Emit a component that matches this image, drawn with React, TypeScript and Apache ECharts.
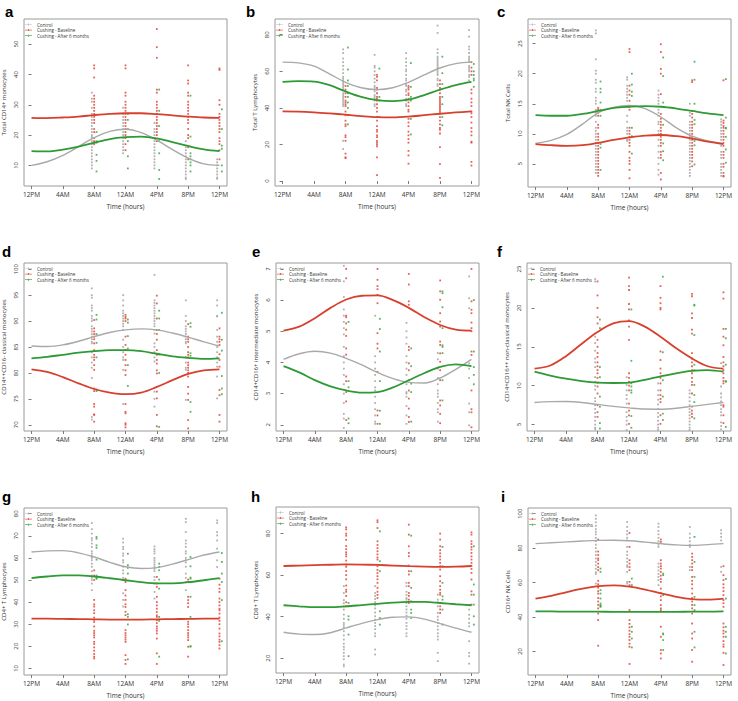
import React, { useEffect, useRef } from "react";
import * as echarts from "echarts";

// ---------- shared axis data ----------
const tickHours = [0, 4, 8, 12, 16, 20, 24];
const tickLabels = ["12PM", "4AM", "8AM", "12AM", "4PM", "8PM", "12PM"];
const sampleHours = [8, 12, 16, 20, 24];
const curveHours = [0, 2, 4, 6, 8, 10, 12, 14, 16, 18, 20, 22, 24];
const groupNames = ["Control", "Cushing - Baseline", "Cushing - After 6 months"];

// ---------- panel a : Total CD14+ monocytes ----------
const aTicks = [10, 20, 30, 40, 50];
const aCtrl = [
  [34, 32, 31, 29, 27, 26, 25, 24, 23, 22, 21, 20, 19.5, 19, 18, 17, 16, 15, 14, 13, 12, 11, 10, 9],
  [29, 27, 26, 25, 24, 23, 22, 21, 20, 19, 18, 17, 16, 15, 14],
  [24, 22, 21, 20, 19, 18, 17, 16, 15, 14, 13, 12, 11, 10, 9],
  [18, 16, 15, 14, 13, 12, 11, 10, 9, 8, 7, 6, 5.5],
  [12, 11, 10, 9, 8, 7, 6, 5.6],
];
const aBase = [
  [43, 42, 39, 33, 32, 31, 30, 29, 28, 27, 26, 25, 24, 22, 21, 19, 18, 17.5, 17],
  [43, 42, 34, 33, 31, 30, 29, 28, 27, 26, 25, 24, 23, 22, 21, 20, 19, 17, 15],
  [55, 49, 45.5, 35, 34, 31, 30, 29, 28, 27, 26, 25, 24, 23, 22, 21, 20, 18],
  [43, 38, 37, 34, 33, 31, 30, 29, 28, 27, 26, 25, 24, 22, 20, 19, 16, 12],
  [42, 41.5, 31.5, 30, 27, 26, 25, 24, 23, 22, 21, 19, 18, 17, 15, 12],
];
const aAfter = [
  [21, 18, 17.5, 13.5, 11.5, 8],
  [27, 25, 22, 18, 13, 9],
  [35, 28, 23, 18, 14, 8.5, 5.5],
  [33, 19.5, 14, 13, 12, 11, 10, 8],
  [28.5, 22, 16.5, 15.5, 10, 8],
];
const aCtrlFit = [10.0, 11.2, 13.3, 16.2, 19.2, 21.2, 21.9, 20.8, 18.3, 15.2, 12.4, 10.5, 10.0];
const aBaseFit = [25.7, 25.6, 25.8, 26.1, 26.6, 27.0, 27.2, 27.2, 26.9, 26.5, 26.1, 25.8, 25.7];
const aAfterFit = [14.7, 14.6, 15.2, 16.2, 17.5, 18.7, 19.3, 19.5, 18.9, 17.7, 16.4, 15.3, 14.7];

// ---------- panel b : Total T Lymphocytes ----------
const bTicks = [0, 20, 40, 60, 80];
const bCtrl = [
  [72, 70, 67, 65, 63, 61, 59, 57, 56, 55, 54, 53, 52, 51, 50, 48, 47, 46, 45, 44, 43, 42, 41, 22, 17.5],
  [69, 63, 62, 60, 58, 56, 54, 52, 51, 50, 49, 47, 46, 45, 44, 42, 41],
  [70, 67, 65, 63, 61, 60, 58, 56, 55, 53, 52, 50, 49, 47, 45, 44, 42, 41],
  [85, 81, 72, 70, 68, 67, 66, 65, 64, 63, 62, 61, 60, 59, 58, 56, 55, 53, 52],
  [82.5, 79, 73.5, 72, 70, 68, 67, 66, 65, 63, 62, 61, 60, 58, 57, 55],
];
const bBase = [
  [52, 50, 48, 46, 44, 43, 42, 41, 38, 36, 33, 31, 30, 25, 24, 22, 15, 13, 12.5],
  [58, 57, 55, 51, 50, 48, 46, 45, 44, 42, 40, 38, 35, 33, 30, 28, 27, 25, 24, 22, 21, 20, 19, 13, 3.3],
  [52, 51, 50, 48, 47, 45, 43, 41, 39, 38, 34, 32, 30, 27, 25, 23, 21, 16.5, 14, 9.5],
  [55, 53, 51, 50, 48, 46, 45, 44, 43, 42, 41, 40, 39, 38, 37, 35, 33, 31, 29, 28, 26, 18.5, 9.3, 1.7],
  [65, 62, 60, 58, 50, 48, 45, 43, 41, 38, 37, 35, 32, 29, 27, 25, 21.5, 21, 10.5, 8.5],
];
const bAfter = [
  [73, 61, 55, 52, 48, 46, 43, 40, 36, 31],
  [61.5, 46, 44, 35],
  [64.5, 51.5, 46, 44, 34, 25.5],
  [68, 59, 53, 46, 42, 35, 30.5],
  [64, 60, 58, 56, 55, 51.5],
];
const bCtrlFit = [65, 64.6, 62.8, 58.5, 54, 51, 50, 51, 54, 58, 61.8, 64.2, 65];
const bBaseFit = [38.1, 38, 37.6, 37, 36.3, 35.5, 34.9, 34.8, 35.2, 36, 36.8, 37.5, 38.1];
const bAfterFit = [54.2, 54.6, 54.4, 52.4, 49, 46, 44.2, 43.7, 44.5, 47, 50, 52.5, 54.2];

// ---------- panel c : Total NK Cells ----------
const cTicks = [5, 10, 15, 20, 25];
const cCtrl = [
  [27.2, 26.7, 22.4, 20.5, 20, 19, 18.5, 17.5, 17, 16, 15.5, 15, 14, 13.5, 13, 12, 11, 10.5, 10, 9.5, 9, 8.5, 8, 7.5, 7, 6.5, 6, 5.5, 5, 4.5, 4, 3.5],
  [19.4, 19, 18, 17.5, 17, 16.5, 16, 15.5, 14.5, 13, 12, 11, 10.5, 10, 9, 8.8],
  [17.2, 16.5, 16, 15.5, 15, 14, 13.5, 13, 12, 11.6, 10.5, 10, 9, 8, 7, 6, 5, 4, 3.2],
  [15, 13.5, 13, 12, 11.5, 11, 10.5, 10, 9.5, 9, 8.5, 8, 7.5, 7, 6.5, 6, 5.5, 5, 4.5, 4, 3.5, 3],
  [12.4, 12, 11.5, 11, 10.5, 10, 9.5, 9, 8, 7, 6.5, 6, 5, 4.5, 4, 3.5, 3],
];
const cBase = [
  [14.3, 14, 13.5, 13, 11.5, 11, 10, 9.5, 9, 8.5, 8, 7.5, 7, 6.5, 6, 5.5, 5, 4.5, 4, 3.5, 3],
  [24.1, 23.6, 18, 17.2, 16.5, 15.5, 14.5, 14, 11, 10.5, 10, 9.5, 9, 8.5, 8, 7, 6, 5.5, 5, 4, 2.6],
  [24.9, 23.6, 20.8, 20, 16.6, 13.3, 12.5, 12, 11.5, 11, 10.5, 10, 9.5, 9, 8.5, 8, 7, 6.5, 6, 3.5, 2.4],
  [18.9, 18.6, 13.8, 13.3, 12.7, 12, 11.5, 11, 10.5, 10, 9.5, 9, 8.5, 8, 7.5, 7, 6.5, 6, 5.4, 4.6],
  [18.9, 12.2, 11.8, 11.3, 11, 10.5, 10, 9.5, 9, 8.5, 8, 7, 6.5, 6, 5, 4.5, 3.5, 3, 2.9],
];
const cAfter = [
  [18.7, 17.5, 16.9, 15.2, 14, 13, 8.3, 7.7, 4],
  [20, 18.2, 17, 16.3, 11, 9.6, 6.7],
  [22.7, 19.6, 15.2, 11.5, 8.4, 7.1, 5.6],
  [22, 19, 15, 12.3, 11.6, 8.8, 8.1, 4.9],
  [19.1, 12.7, 11, 10.9, 9.5, 7.4, 5.2],
];
const cCtrlFit = [8.4, 8.9, 9.9, 11.6, 13.5, 14.4, 14.7, 14.2, 12.8, 11.0, 9.6, 8.8, 8.4];
const cBaseFit = [8.3, 8.1, 8.0, 8.1, 8.5, 9.0, 9.4, 9.7, 9.8, 9.6, 9.2, 8.7, 8.3];
const cAfterFit = [13.1, 13.0, 13.0, 13.3, 13.8, 14.3, 14.5, 14.6, 14.5, 14.2, 13.8, 13.4, 13.1];

// ---------- panel d : classical monocytes ----------
const dTicks = [70, 75, 80, 85, 90, 95, 100];
const dCtrl = [
  [96.3, 95, 94.5, 93, 92.5, 92, 91, 90.5, 90, 89, 88.5, 88, 87.5, 87, 86.5, 86, 85.7, 84, 83, 82, 81, 79, 71.5, 71],
  [95, 94, 93, 92, 91.5, 91, 90.5, 90, 89.5, 89, 88.3, 86.4, 85, 84, 83, 82.5, 80.6, 74],
  [98.9, 94, 93.5, 93, 92.5, 92, 91.5, 91, 90.5, 90, 89.5, 89, 88.3, 87.6, 85.7, 85, 84, 83, 82.2, 76.4, 75, 73.5],
  [94, 91, 90, 89, 88.5, 88, 87.5, 87, 86.5, 86, 85.7, 83.1, 82, 81, 80.6, 74.8],
  [94, 93, 91, 90.9, 88.3, 87, 86, 85, 84, 83, 82, 81.2, 79.3, 75.1],
];
const dBase = [
  [90.2, 88.6, 88, 87.5, 87, 86.5, 85.7, 84.4, 83.5, 83, 82.5, 81.5, 80.6, 77, 76.5, 74, 73.5, 72, 71.9, 70.6],
  [91.2, 90.8, 90.5, 90, 87, 85.4, 84.4, 83.5, 82.5, 81.5, 80.5, 79.6, 74, 72.5, 72.2, 70.3, 70, 69.5],
  [94.9, 93.4, 90.5, 88.3, 87.5, 86.4, 84.4, 83.5, 82.5, 81.8, 80.5, 79.9, 76.4, 75.1, 71.9, 69.7],
  [89.4, 87, 86.5, 86, 85, 84, 83.5, 83, 82, 81.5, 81, 80.5, 80, 79.3, 77.3, 76, 74.8, 70.9, 69.3],
  [88.6, 87, 86.5, 86, 85.4, 83.6, 82.5, 81.2, 76.7, 75.7, 71.9, 70.6],
];
const dAfter = [
  [91.2, 90.3, 87.5, 85.8, 83, 76.8, 76.5],
  [90.3, 89.7, 87.1, 84.7, 81.5, 77.5],
  [92, 90.5, 88.3, 83.6, 80, 69.6],
  [89.6, 88.9, 83.8, 83.3, 74.4, 72.5],
  [91.6, 86.4, 84.3, 79.4, 77, 75.9],
];
const dCtrlFit = [85.2, 85.1, 85.4, 86.1, 87.0, 87.8, 88.3, 88.5, 88.3, 87.7, 86.9, 86.0, 85.2];
const dBaseFit = [80.7, 80.2, 79.2, 78, 76.9, 76.2, 75.9, 76.2, 77.3, 78.6, 79.8, 80.5, 80.7];
const dAfterFit = [82.8, 83.1, 83.5, 83.9, 84.2, 84.4, 84.4, 84.2, 83.7, 83.2, 82.9, 82.7, 82.8];

// ---------- panel e : intermediate monocytes ----------
const eTicks = [2, 3, 4, 5, 6, 7];
const eCtrl = [
  [7.1, 6.6, 6.1, 5.7, 5.5, 5.3, 5.1, 4.9, 4.5, 4.2, 4, 3.8, 3.6, 3.3, 3, 2.7, 2.35, 2.2, 1.9],
  [5.5, 4.2, 4, 3.8, 3.6, 3.4, 3.2, 3.1, 2.9, 2.7, 2.5, 2.3, 2.1, 2.03],
  [5.27, 5, 4.8, 4.6, 4.2, 4, 3.8, 3.6, 3.3, 3.05, 3, 2.9, 2.6, 2.3, 2.03],
  [4.3, 4.1, 3.8, 3.5, 3.3, 3.1, 3, 2.9, 2.7, 2.5, 2.4, 2.1],
  [6.76, 6.06, 5.74, 3.97, 3.8, 3.5, 2.68, 2.4, 1.98],
];
const eBase = [
  [7, 6.7, 5.5, 5.45, 5.25, 5.05, 4.85, 4.45, 4.25, 3.55, 3.4, 3.05, 2.75, 2.15],
  [7, 6.65, 6.45, 6.35, 6.17, 5.9, 4.94, 4.6, 4.45, 3.7, 2.46, 2.3, 2.03],
  [6.84, 6.5, 5.96, 5.85, 4.5, 4.4, 3.97, 3.75, 3.43, 3.1, 2.84, 2.52, 2.25, 2.09],
  [6.63, 6.28, 6.01, 5.58, 5.31, 5.15, 4.67, 4.56, 4.29, 4.02, 3.75, 3.43, 2.78, 2.62, 2.35, 2.05],
  [7, 5.96, 5.69, 5.58, 5.28, 5.1, 5, 4.35, 4.24, 3.1, 2.5, 2.4, 1.92],
];
const eAfter = [
  [5.3, 3.4, 3.2, 2.2, 2.05],
  [5.4, 5.07, 4.35, 3.4, 2.45, 2.03],
  [4.45, 3.88, 3.32, 3.05, 2.1],
  [6.28, 6.22, 5.77, 5.1, 4.55, 4.5, 4.3, 3.43, 2.78],
  [6, 4.35, 3.85, 3.6, 3.3],
];
const eCtrlFit = [4.1, 4.28, 4.36, 4.3, 4.13, 3.92, 3.68, 3.48, 3.36, 3.34, 3.5, 3.78, 4.1];
const eBaseFit = [5.02, 5.15, 5.42, 5.75, 6.02, 6.14, 6.15, 6.0, 5.75, 5.45, 5.2, 5.05, 5.02];
const eAfterFit = [3.88, 3.68, 3.43, 3.23, 3.1, 3.03, 3.05, 3.2, 3.43, 3.66, 3.86, 3.94, 3.88];

// ---------- panel f : non-classical monocytes ----------
const fTicks = [5, 10, 15, 20, 25];
const fCtrl = [
  [23.7, 23.4, 16.3, 15.5, 14.5, 13.5, 13, 12.4, 11.1, 10.5, 10, 9.5, 8.4, 8, 7.5, 7, 6.5, 6, 5.5, 5, 4.6, 4.4],
  [11.1, 10.1, 9.4, 8.8, 8.3, 7.7, 6.6, 6, 5.5, 5, 4.3],
  [10.3, 9.4, 8.8, 8.2, 7.6, 7, 6.5, 6, 5.5, 5, 4.6, 4.3],
  [9.4, 9, 8.5, 8, 7.5, 7, 6.6, 6.2, 5.8, 5.4, 5, 4.6, 4.3],
  [12.9, 9.9, 9, 8.5, 8, 7.5, 7, 6.6, 6.2, 5.3, 4.8, 4.4],
];
const fBase = [
  [23.4, 21.6, 20, 18.8, 18, 15.9, 15, 14.2, 13.7, 13, 12.5, 12, 11.6, 11, 10.4, 9.9, 9, 7.5, 6.6, 6],
  [23.9, 22.8, 22.3, 20.5, 19.8, 18.4, 17.6, 15.9, 11.6, 11, 10.5, 10, 9.4, 7.7, 6.8, 6.2, 5.1],
  [22.8, 21.3, 20.6, 20, 19.8, 14.4, 13.3, 12.2, 11.6, 11, 10.3, 9.4, 8.8, 8.3, 7.9, 6.2, 5.1],
  [21.8, 21.5, 19.3, 18.7, 17.2, 16.7, 14.2, 13.5, 13, 12.5, 12, 11.6, 11, 10.5, 10.1, 9, 7.3, 6.8, 6.4, 6],
  [22, 21.2, 17.3, 16.3, 15.2, 13.7, 13, 12.5, 12, 11.6, 11, 10.6, 10.3, 7.5, 7.3, 6.2, 5.2],
];
const fAfter = [
  [18.5, 17.4, 12.4, 11.1, 8.6, 7.3, 5.2, 4.5],
  [19.8, 13.2, 10.3, 9.9, 9.4, 9.1, 6.1, 4.6],
  [24, 14.3, 10.7, 8.6, 6.4, 5.6],
  [20.4, 20.3, 16.5, 12.7, 12, 10.1, 8.8, 7.9, 5.8],
  [17.3, 16.1, 12.7, 10.6, 10.5, 4.7],
];
const fCtrlFit = [7.85, 7.95, 7.97, 7.85, 7.6, 7.35, 7.15, 7.0, 6.98, 7.1, 7.35, 7.6, 7.85];
const fBaseFit = [12.2, 12.6, 13.8, 15.4, 16.9, 18.0, 18.3, 17.6, 16.3, 14.8, 13.5, 12.5, 12.2];
const fAfterFit = [11.8, 11.3, 10.9, 10.6, 10.4, 10.35, 10.4, 10.75, 11.2, 11.6, 11.9, 12.0, 11.8];

// ---------- panel g : CD4+ T Lymphocytes ----------
const gTicks = [10, 20, 30, 40, 50, 60, 70, 80];
const gCtrl = [
  [75.8, 73, 71, 69, 68, 66.5, 65, 63, 62, 61, 60, 59, 57.4, 56, 54, 52, 51, 50, 48.4, 45.4],
  [68.7, 67, 65, 64, 62, 61, 59, 58, 56, 54.4, 53, 51, 50, 44, 41, 38],
  [65.2, 64, 63, 62, 60, 59, 58, 57, 56, 55, 54, 51.4, 50, 48.4, 44.6, 41.6],
  [77.7, 76.2, 71.7, 67.9, 66.5, 65, 63, 62, 60, 59, 58, 56, 52.9, 51, 49.1, 45.4],
  [77, 75.8, 71.7, 70.2, 67.9, 64.2, 58.9, 55.9],
];
const gBase = [
  [54.4, 52, 50, 41, 39, 38, 36.3, 35, 33, 32, 31, 29, 27, 26, 25, 24, 22, 21, 19.5, 18, 16.5, 15.3, 14.5],
  [50.6, 49.1, 45.4, 43, 41, 39, 37.8, 35.6, 34.1, 27.3, 26, 25, 24, 23, 22, 16, 13.8, 12],
  [51.4, 48.4, 46.9, 42.4, 40, 38.5, 37, 35.5, 34, 33.3, 31.8, 30.5, 29, 28, 27, 25.8, 23.5, 16.8, 12],
  [50.2, 49.1, 42.4, 40.9, 39.5, 37.8, 31.1, 30, 28.8, 27.3, 26, 25, 24, 22.8, 19.8, 15.3],
  [50.6, 47.9, 46.1, 44.6, 41.6, 40, 38.5, 37, 36.3, 34.8, 33, 31.5, 30, 28, 25.8, 24.5, 23, 22, 20.5, 19],
];
const gAfter = [
  [69.5, 68.7, 65.7, 64.6, 59.2, 52, 51, 50.5],
  [61.9, 56.7, 55.5, 52.9, 34.5, 33.3, 29.9, 14.1],
  [57.4, 55.9, 54.4, 50.2, 46.1, 33.3, 31.5, 15.3],
  [60.4, 56.2, 51.1, 50.6, 42.4, 33.3, 20.1, 19.8],
  [62.2, 58.2, 52.9, 49.1, 40.9, 22.3],
];
const gCtrlFit = [62.7, 63.2, 63.3, 62.3, 60.4, 58.0, 56.0, 55.2, 55.6, 57.2, 59.2, 61.3, 62.7];
const gBaseFit = [32.5, 32.5, 32.4, 32.3, 32.2, 32.1, 32.1, 32.1, 32.2, 32.3, 32.4, 32.5, 32.5];
const gAfterFit = [50.9, 51.6, 52.1, 52.1, 51.6, 50.8, 49.9, 49, 48.5, 48.5, 49.0, 49.9, 50.9];

// ---------- panel h : CD8+ T Lymphocytes ----------
const hTicks = [20, 40, 60, 80];
const hCtrl = [
  [54.7, 51.4, 48, 46.5, 45, 43.4, 41, 39, 37, 36, 35, 33, 31, 29, 27, 25.5, 24.2, 22.6, 21, 19.5, 17, 16.1],
  [54.7, 51.4, 50, 48.5, 47, 45.5, 44, 42, 40.2, 38.6, 37, 35.5, 34, 32, 30.6, 24.2, 21.8],
  [56.3, 54.7, 52, 50.5, 49, 48.2, 46.6, 45, 43.5, 42, 40.5, 39, 37, 35.5, 34, 32, 30.6],
  [50.6, 48.2, 47, 45, 41.8, 40, 38.5, 37, 35.4, 33.8, 32, 30.5, 29, 22.6, 18.6],
  [43.4, 40.9, 39, 37, 35.4, 28.2, 22.6, 21, 17.4],
];
const hBase = [
  [83, 82, 80, 79, 77, 74, 72.5, 71, 70, 69, 67, 65, 64, 62, 60, 58, 55, 53, 52, 50, 47, 45],
  [86.4, 85.5, 82.7, 76.3, 74.5, 73, 71.5, 70, 68.5, 67.5, 64.3, 62.5, 61, 59.5, 58, 56.3, 53.9, 52, 50.5, 49],
  [84.3, 79.5, 73.9, 70.7, 69.1, 64.6, 61.9, 60.3, 56.3, 54.7, 51.4, 50, 48.2, 46.6],
  [80, 77.1, 73.9, 72, 70.5, 69, 67.5, 65.9, 64.3, 62.7, 59.5, 57.1, 54.7, 53, 51.5, 50.6, 46.6, 45, 43.5, 41.8],
  [80.6, 79.5, 76.3, 75, 73.5, 72.3, 70.7, 69, 67.5, 65.9, 64.5, 63, 61.1, 57.9, 52.2, 50.6, 45.8],
];
const hAfter = [
  [46.6, 45, 40.2, 38.6, 31.4, 21],
  [81.1, 66.7, 61.9, 42.6, 39.4, 36.2],
  [79, 61.9, 53.9, 47.4, 43.4, 41.8, 39.4],
  [73.6, 64.3, 56.3, 49.8, 48.2, 43.4, 36.2],
  [73.9, 55.5, 50.6, 45.8, 40.2, 36.2],
];
const hCtrlFit = [32.5, 31.6, 31.4, 32.3, 34.6, 36.8, 38.6, 39.7, 39.9, 38.8, 36.7, 34.5, 32.5];
const hBaseFit = [64.4, 64.6, 64.8, 65.0, 65.2, 65.1, 64.9, 64.6, 64.3, 64.1, 64.0, 64.1, 64.4];
const hAfterFit = [45.5, 45.0, 44.6, 44.6, 45.0, 45.6, 46.2, 46.8, 47.1, 47.1, 46.6, 46.0, 45.5];

// ---------- panel i : CD16+ NK Cells ----------
const iTicks = [20, 40, 60, 80, 100];
const iCtrl = [
  [99, 97, 95, 93, 91, 89.5, 88, 86, 84, 82, 80, 78, 76, 74, 72, 70, 68, 66, 65, 59.4],
  [95.2, 92.3, 90, 88, 86, 84.5, 80.7, 78, 76, 74, 72, 70, 69.1, 66.2, 60.4, 59.4],
  [94.2, 92.3, 90, 88, 86, 84, 82, 80.7, 71, 69, 67, 65, 63.3, 61.4, 58.5],
  [92.3, 88.4, 86, 84, 82, 80.7, 69.1, 67.2],
  [90.4, 88.5, 86.5, 84.5, 69.1, 66.2],
];
const iBase = [
  [85, 78, 76, 74, 73, 71, 69, 67.2, 61, 59, 57, 55, 53.6, 51, 49, 47, 45, 42, 38.2, 23.3],
  [88.8, 80.7, 73, 71, 69, 67.2, 60.4, 58.5, 44, 38.2, 36, 34, 32, 30, 28.5, 26.6, 24.5, 22.7, 12.7],
  [85, 83.6, 73, 71, 69.5, 68.1, 66.2, 64, 62, 60.4, 56.5, 54, 52, 49.8, 46.9, 45, 44, 34.3, 28.5, 20.8, 18.8, 15.9],
  [76.8, 74.9, 73, 71, 69, 67.2, 63.3, 61, 59, 56.5, 53.6, 51, 49, 47, 45, 42, 36.2, 30.4, 27.5, 20.8, 14],
  [69.5, 64.3, 61.4, 59, 57, 55, 52.7, 49.8, 48, 45.9, 36.2, 34, 32, 30.4, 28.5, 26, 24, 22.7, 19.2, 12.1],
];
const iAfter = [
  [68.1, 66.2, 55.6, 53.6, 50.7, 47.8, 46.9, 46.3, 45.9],
  [62.3, 58.5, 34.3, 31.4, 27.5, 22.3],
  [65.2, 64.3, 52.7, 30.4, 29.9, 26.6, 20.8],
  [86.5, 72, 63.3, 51.7, 46.9, 44, 31.4, 22.3],
  [62.1, 50.7, 34.3, 31.4, 28.5, 18.8],
];
const iCtrlFit = [82.6, 83.1, 83.6, 84.1, 84.5, 84.6, 84.3, 83.5, 82.6, 81.9, 81.6, 82.0, 82.6];
const iBaseFit = [50.7, 52.3, 54.5, 56.5, 57.9, 58.4, 57.6, 55.9, 53.7, 51.7, 50.4, 50.1, 50.7];
const iAfterFit = [43.2, 43.2, 43.1, 43.1, 43.1, 43.0, 43.0, 43.0, 43.0, 43.0, 43.1, 43.1, 43.2];

// ---------- panel assembly ----------
const panels = [
  { letter: "a", title: "Total CD14+ monocytes", ticks: aTicks, range: [3.2, 58.3], groups: [aCtrl, aBase, aAfter], fits: [aCtrlFit, aBaseFit, aAfterFit] },
  { letter: "b", title: "Total T Lymphocytes", ticks: bTicks, range: [-2.7, 88.6], groups: [bCtrl, bBase, bAfter], fits: [bCtrlFit, bBaseFit, bAfterFit] },
  { letter: "c", title: "Total NK Cells", ticks: cTicks, range: [1.15, 29.1], groups: [cCtrl, cBase, cAfter], fits: [cCtrlFit, cBaseFit, cAfterFit] },
  { letter: "d", title: "CD14++CD16- classical monocytes", ticks: dTicks, range: [68.8, 101.2], groups: [dCtrl, dBase, dAfter], fits: [dCtrlFit, dBaseFit, dAfterFit] },
  { letter: "e", title: "CD14+CD16+ intermediate monocytes", ticks: eTicks, range: [1.8, 7.19], groups: [eCtrl, eBase, eAfter], fits: [eCtrlFit, eBaseFit, eAfterFit] },
  { letter: "f", title: "CD14+CD16++ non-classical monocytes", ticks: fTicks, range: [4.18, 25.77], groups: [fCtrl, fBase, fAfter], fits: [fCtrlFit, fBaseFit, fAfterFit] },
  { letter: "g", title: "CD4+ T Lymphocytes", ticks: gTicks, range: [7, 82.6], groups: [gCtrl, gBase, gAfter], fits: [gCtrlFit, gBaseFit, gAfterFit] },
  { letter: "h", title: "CD8+ T Lymphocytes", ticks: hTicks, range: [12.9, 92.8], groups: [hCtrl, hBase, hAfter], fits: [hCtrlFit, hBaseFit, hAfterFit] },
  { letter: "i", title: "CD16+ NK Cells", ticks: iTicks, range: [6.3, 103.3], groups: [iCtrl, iBase, iAfter], fits: [iCtrlFit, iBaseFit, iAfterFit] },
];

// layout (pixels)
const boxes = [
  { left: 24, top: 19, width: 203, height: 167 },
  { left: 275, top: 19, width: 204, height: 167 },
  { left: 528, top: 19, width: 203, height: 168 },
  { left: 24, top: 263, width: 203, height: 168 },
  { left: 276, top: 263, width: 203, height: 168 },
  { left: 527, top: 263, width: 204, height: 168 },
  { left: 24, top: 508, width: 203, height: 167 },
  { left: 276, top: 507, width: 203, height: 166 },
  { left: 528, top: 508, width: 203, height: 167 },
];
const letterPos = [
  [5, 11.5], [246, 11.5], [497, 11.5],
  [2, 251.5], [252, 251.5], [497, 251.5],
  [2, 496], [251, 496.5], [501, 496.5],
];

const pointColors = ["#9e9e9e", "#e23a2c", "#2fa43a"];
const lineColors = ["#a9a9a9", "#d8402e", "#2e9a35"];
const lineWidths = [1.4, 1.8, 1.8];
const xOffsets = [-0.3, 0, 0.3];
const FONT = "'Open Sans', 'Noto Sans', sans-serif";
const legendIcon = "path://M0,0.65L7,0.65L7,1.35L0,1.35Z M2.9,0L4.1,0L4.1,2L2.9,2Z";

function buildOption() {
  const grid: any[] = [];
  const xAxis: any[] = [];
  const yAxis: any[] = [];
  const series: any[] = [];
  const legend: any[] = [];
  const graphic: any[] = [];

  panels.forEach((p, i) => {
    const b = boxes[i];
    grid.push({ ...b, show: true, borderColor: "#9a9a9a", borderWidth: 1, backgroundColor: "transparent" });
    xAxis.push({
      type: "value",
      gridIndex: i,
      min: -0.96,
      max: 24.96,
      axisLine: { show: false },
      splitLine: { show: false },
      axisTick: { show: true, length: 3, customValues: tickHours, lineStyle: { color: "#7a7a7a" } },
      axisLabel: {
        customValues: tickHours,
        formatter: (v: number) => tickLabels[tickHours.indexOf(v)],
        fontSize: 6.5,
        color: "#333",
        margin: 5,
        fontFamily: FONT,
      },
      name: "Time (hours)",
      nameLocation: "middle",
      nameGap: 17,
      nameTextStyle: { fontSize: 6.5, color: "#333", fontFamily: FONT },
    });
    yAxis.push({
      type: "value",
      gridIndex: i,
      min: p.range[0],
      max: p.range[1],
      axisLine: { show: false },
      splitLine: { show: false },
      axisTick: { show: true, length: 3, customValues: p.ticks, lineStyle: { color: "#7a7a7a" } },
      axisLabel: { customValues: p.ticks, rotate: 90, fontSize: 6, color: "#333", margin: 5, fontFamily: FONT },
      name: p.title,
      nameLocation: "middle",
      nameGap: 17,
      nameTextStyle: { fontSize: 6, color: "#333", fontFamily: FONT },
    });
    p.groups.forEach((cols, g) => {
      const pts: number[][] = [];
      cols.forEach((vals, k) => {
        vals.forEach((v) => pts.push([sampleHours[k] + xOffsets[g], v]));
      });
      series.push({
        type: "scatter",
        name: groupNames[g],
        xAxisIndex: i,
        yAxisIndex: i,
        data: pts,
        symbol: "rect",
        symbolSize: 1.8,
        itemStyle: { color: pointColors[g] },
        silent: true,
        z: 2,
      });
    });
    p.fits.forEach((fit, g) => {
      series.push({
        type: "line",
        name: groupNames[g],
        xAxisIndex: i,
        yAxisIndex: i,
        data: curveHours.map((h, k) => [h, fit[k]]),
        smooth: 0.35,
        showSymbol: false,
        lineStyle: { color: lineColors[g], width: lineWidths[g] },
        itemStyle: { color: lineColors[g] },
        silent: true,
        z: 3,
      });
    });
    legend.push({
      left: b.left + 1,
      top: b.top + 3,
      orient: "vertical",
      padding: 0,
      itemGap: 0.6,
      itemWidth: 7,
      itemHeight: 2,
      selectedMode: false,
      textStyle: { fontSize: 4.5, lineHeight: 5, color: "#333", fontFamily: FONT },
      data: groupNames.map((n, g) => ({ name: n, icon: legendIcon, itemStyle: { color: lineColors[g] } })),
    });
    graphic.push({
      type: "text",
      x: letterPos[i][0],
      y: letterPos[i][1],
      style: {
        text: p.letter,
        fontSize: 15,
        fontWeight: "bold",
        fontFamily: "'Liberation Sans', Arial, sans-serif",
        fill: "#000",
        verticalAlign: "middle",
        align: "left",
      },
    });
  });

  return { animation: false, backgroundColor: "#fff", grid, xAxis, yAxis, series, legend, graphic };
}

export default function App() {
  const ref = useRef<HTMLDivElement>(null);
  useEffect(() => {
    if (!ref.current) return;
    const chart = echarts.init(ref.current, undefined, { renderer: "svg" });
    chart.setOption(buildOption() as any);
    return () => chart.dispose();
  }, []);
  return (
    <div
      ref={ref}
      style={{ position: "fixed", left: 0, top: 0, width: 738, height: 701, background: "#fff" }}
    />
  );
}
